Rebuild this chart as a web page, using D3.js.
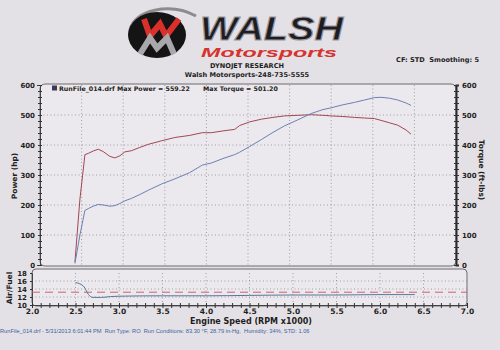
<!DOCTYPE html>
<html>
<head>
<meta charset="utf-8">
<script src="https://cdn.jsdelivr.net/npm/d3@7"></script>
<style>
  body { margin: 0; background: #e4e1e6; }
  svg { display: block; }
  text { font-family: "DejaVu Sans", Verdana, sans-serif; fill: #1e1e22; white-space: pre; }
</style>
</head>
<body>
<script>
// dyno run values
var rpm = [2.42, 2.48, 2.54, 2.58, 2.64, 2.70, 2.76, 2.84, 2.90, 2.96, 3.02, 3.10, 3.20, 3.30, 3.46, 3.62, 3.80, 3.95,
           4.06, 4.20, 4.34, 4.40, 4.52, 4.66, 4.80, 4.94, 5.10, 5.26, 5.40, 5.50, 5.64, 5.78, 5.90, 6.02, 6.10, 6.20, 6.30, 6.40, 6.46];
var powerHp = [5, 100, 182, 188, 196, 202, 200, 196, 198, 205, 214, 222, 235, 249, 270, 287, 308, 333,
               340, 355, 368, 376, 395, 418, 442, 464, 484, 505, 518, 524, 534, 542, 550, 558, 559, 556, 550, 540, 532];
var torqueFt = [10, 220, 368, 372, 380, 386, 378, 362, 357, 364, 377, 381, 392, 402, 414, 425, 432, 441,
                441, 447, 452, 465, 477, 486, 492, 497, 499, 501, 499, 497, 495, 492, 490, 488, 482, 474, 466, 450, 436];
var maxPower = 559.22;
var maxTorque = 501.20;

var afrRpm = [2.50, 2.55, 2.60, 2.65, 2.70, 2.80, 2.90, 3.00, 3.50, 4.00, 4.50, 5.00, 5.50, 6.00, 6.40];
var afrVals = [15.6, 15.3, 14.5, 12.6, 11.9, 11.9, 12.1, 12.2, 12.3, 12.3, 12.4, 12.5, 12.5, 12.6, 12.6];
var afrTarget = 13.2;

var powerTicks = [0, 100, 200, 300, 400, 500, 600];
var rpmTicks = [2.0, 2.5, 3.0, 3.5, 4.0, 4.5, 5.0, 5.5, 6.0, 6.5, 7.0];
var afrTicks = [10, 12, 14, 16, 18];

var width = 500, height = 350;
var svg = d3.select("body").append("svg").attr("width", width).attr("height", height);

// ---- header / logo ----
var logo = svg.append("g");
logo.append("path").attr("d", "M130,30 C134,10 170,2 196,16").attr("fill", "none")
    .attr("stroke", "#8d8a90").attr("stroke-width", 3);
logo.append("ellipse").attr("cx", 157).attr("cy", 35).attr("rx", 29).attr("ry", 23).attr("fill", "#141414");
logo.append("path").attr("d", "M144,19 L150,36 L160,24 L166,36 L179,19").attr("fill", "none")
    .attr("stroke", "#d9302c").attr("stroke-width", 6).attr("stroke-linejoin", "miter");
logo.append("path").attr("d", "M140,54 L150,38 L157,48 L167,38 L174,54").attr("fill", "none")
    .attr("stroke", "#a9a7ab").attr("stroke-width", 6).attr("stroke-linejoin", "miter");
logo.append("text").attr("x", 200).attr("y", 40).text("WALSH")
    .style("font-family", "Liberation Sans, Arial").style("font-size", "33px").style("font-weight", "bold")
    .style("font-style", "italic").attr("fill", "#111").attr("stroke", "#9a979d").attr("stroke-width", 1)
    .attr("textLength", 143).attr("lengthAdjust", "spacingAndGlyphs");
logo.append("text").attr("x", 201).attr("y", 57).text("Motorsports")
    .style("font-family", "Liberation Sans, Arial").style("font-size", "12px").style("font-weight", "bold")
    .style("font-style", "italic").style("fill", "#d6332e")
    .attr("textLength", 136).attr("lengthAdjust", "spacingAndGlyphs");

svg.append("text").attr("x", 247).attr("y", 68).attr("text-anchor", "middle")
    .style("font-size", "6.6px").style("font-weight", "bold").text("DYNOJET RESEARCH");
svg.append("text").attr("x", 247).attr("y", 77).attr("text-anchor", "middle")
    .style("font-size", "6.6px").style("font-weight", "bold").text("Walsh Motorsports-248-735-5555");
svg.append("text").attr("x", 479).attr("y", 62).attr("text-anchor", "end")
    .style("font-size", "6.6px").style("font-weight", "bold").text("CF: STD  Smoothing: 5");

// ---- main power / torque plot ----
var x = d3.scaleLinear().domain([2, 7]).range([40, 456]);
var y = d3.scaleLinear().domain([0, 600]).range([265, 85]);

svg.append("rect").attr("x", 40).attr("y", 84).attr("width", 416).attr("height", 182)
    .attr("rx", 5).attr("fill", "#ebe9ed").attr("stroke", "#6c6a70").attr("stroke-width", 1);

var grid = svg.append("g").attr("stroke", "#8e8c92").attr("stroke-width", 0.8).attr("stroke-dasharray", "1,2.5");
grid.selectAll(".gy").data(powerTicks.slice(1, -1)).enter().append("line")
    .attr("x1", x(2)).attr("x2", x(7)).attr("y1", function(d) { return y(d); }).attr("y2", function(d) { return y(d); });
grid.selectAll(".gx").data(rpmTicks.slice(1, -1)).enter().append("line")
    .attr("y1", y(600)).attr("y2", y(0)).attr("x1", function(d) { return x(d); }).attr("x2", function(d) { return x(d); });

// left and right axes with minor ticks
var leftAx = d3.axisLeft(y).tickValues(d3.range(0, 601, 20)).tickSize(3).tickFormat("");
svg.append("g").attr("transform", "translate(40,0)").call(leftAx)
    .call(function(g) { g.selectAll("line").attr("stroke", "#333").attr("x2", 2).attr("x1", -2); g.select(".domain").attr("stroke", "#444"); });
svg.append("g").attr("transform", "translate(40,0)").call(d3.axisLeft(y).tickValues(powerTicks).tickSize(0).tickPadding(5))
    .call(function(g) { g.select(".domain").remove(); g.selectAll("text").style("font-size", "7px").style("font-weight", "bold").attr("fill", "#1e1e22"); });

var rightAx = d3.axisRight(y).tickValues(d3.range(0, 601, 20)).tickSize(3).tickFormat("");
svg.append("g").attr("transform", "translate(456,0)").call(rightAx)
    .call(function(g) { g.selectAll("line").attr("stroke", "#333").attr("x1", -2); g.select(".domain").attr("stroke", "#2a2a2a").attr("stroke-width", 2); });
svg.append("g").attr("transform", "translate(456,0)").call(d3.axisRight(y).tickValues(powerTicks).tickSize(0).tickPadding(6))
    .call(function(g) { g.select(".domain").remove(); g.selectAll("text").style("font-size", "7px").style("font-weight", "bold").attr("fill", "#1e1e22"); });

svg.append("text").attr("transform", "translate(17,176) rotate(-90)").attr("text-anchor", "middle")
    .style("font-size", "7.5px").style("font-weight", "bold").text("Power (hp)");
svg.append("text").attr("transform", "translate(479,170) rotate(90)").attr("text-anchor", "middle")
    .style("font-size", "7.5px").style("font-weight", "bold").text("Torque (ft-lbs)");

var runs = rpm.map(function(r, i) { return { rpm: r, hp: powerHp[i], tq: torqueFt[i] }; });
var hpLine = d3.line().x(function(d) { return x(d.rpm); }).y(function(d) { return y(d.hp); });
var tqLine = d3.line().x(function(d) { return x(d.rpm); }).y(function(d) { return y(d.tq); });
svg.append("path").datum(runs).attr("d", tqLine).attr("fill", "none").attr("stroke", "#a04852").attr("stroke-width", 1);
svg.append("path").datum(runs).attr("d", hpLine).attr("fill", "none").attr("stroke", "#6d80b4").attr("stroke-width", 1);

// legend
svg.append("rect").attr("x", 52).attr("y", 85.5).attr("width", 5).attr("height", 5).attr("fill", "#3c3a5a");
svg.append("text").attr("x", 59).attr("y", 91).style("font-size", "6.3px").style("font-weight", "bold")
    .text("RunFile_014.drf Max Power = " + maxPower.toFixed(2));
svg.append("text").attr("x", 203).attr("y", 91).style("font-size", "6.3px").style("font-weight", "bold")
    .text("Max Torque = " + maxTorque.toFixed(2));

// ---- air / fuel panel ----
var xa = d3.scaleLinear().domain([2, 7]).range([32, 467]);
var ya = d3.scaleLinear().domain([10, 18]).range([305, 273]);

svg.append("rect").attr("x", 32).attr("y", 269).attr("width", 435).attr("height", 37)
    .attr("rx", 4).attr("fill", "#ebe9ed").attr("stroke", "#6c6a70").attr("stroke-width", 1);
var agrid = svg.append("g").attr("stroke", "#8e8c92").attr("stroke-width", 0.8).attr("stroke-dasharray", "1,2.5");
agrid.selectAll(".ay").data(afrTicks.slice(1, -1)).enter().append("line")
    .attr("x1", xa(2)).attr("x2", xa(7)).attr("y1", function(d) { return ya(d); }).attr("y2", function(d) { return ya(d); });
agrid.selectAll(".ax").data(rpmTicks.slice(1, -1)).enter().append("line")
    .attr("y1", ya(18)).attr("y2", ya(10)).attr("x1", function(d) { return xa(d); }).attr("x2", function(d) { return xa(d); });

svg.append("g").attr("transform", "translate(32,0)").call(d3.axisLeft(ya).tickValues(afrTicks).tickSize(2).tickPadding(3))
    .call(function(g) { g.select(".domain").attr("stroke", "#444"); g.selectAll("line").attr("stroke", "#333");
      g.selectAll("text").style("font-size", "7px").style("font-weight", "bold").attr("fill", "#1e1e22"); });

svg.append("g").attr("transform", "translate(0,305)").call(d3.axisBottom(xa).tickValues(d3.range(20, 71, 1).map(function(v) { return v / 10; })).tickSize(3).tickFormat(""))
    .call(function(g) { g.select(".domain").attr("stroke", "#444"); g.selectAll("line").attr("stroke", "#333").attr("y1", -2); });
svg.append("g").attr("transform", "translate(0,305)").call(d3.axisBottom(xa).tickValues(rpmTicks).tickSize(0).tickPadding(4).tickFormat(d3.format(".1f")))
    .call(function(g) { g.select(".domain").remove(); g.selectAll("text").style("font-size", "7.5px").style("font-weight", "bold").attr("fill", "#1e1e22"); });

svg.append("line").attr("x1", xa(2)).attr("x2", xa(7)).attr("y1", ya(afrTarget)).attr("y2", ya(afrTarget))
    .attr("stroke", "#d0606a").attr("stroke-width", 1).attr("stroke-dasharray", "8,5");
var afrLine = d3.line().curve(d3.curveMonotoneX).x(function(d, i) { return xa(afrRpm[i]); }).y(function(d) { return ya(d); });
svg.append("path").datum(afrVals).attr("d", afrLine).attr("fill", "none").attr("stroke", "#55789a").attr("stroke-width", 1);

svg.append("text").attr("transform", "translate(12,288) rotate(-90)").attr("text-anchor", "middle")
    .style("font-size", "7.5px").style("font-weight", "bold").text("Air/Fuel");
svg.append("text").attr("x", 251).attr("y", 324).attr("text-anchor", "middle")
    .style("font-size", "8px").style("font-weight", "bold").text("Engine Speed (RPM x1000)");

svg.append("text").attr("x", 0).attr("y", 333)
    .style("font-family", "Liberation Sans, Arial").style("font-size", "5.7px").style("fill", "#3f5f9e")
    .text("RunFile_014.drf - 5/31/2013 6:01:44 PM  Run Type: RO  Run Conditions: 83.30 \u00b0F, 28.79 in-Hg,  Humidity: 34%, STD: 1.06");
</script>
</body>
</html>
